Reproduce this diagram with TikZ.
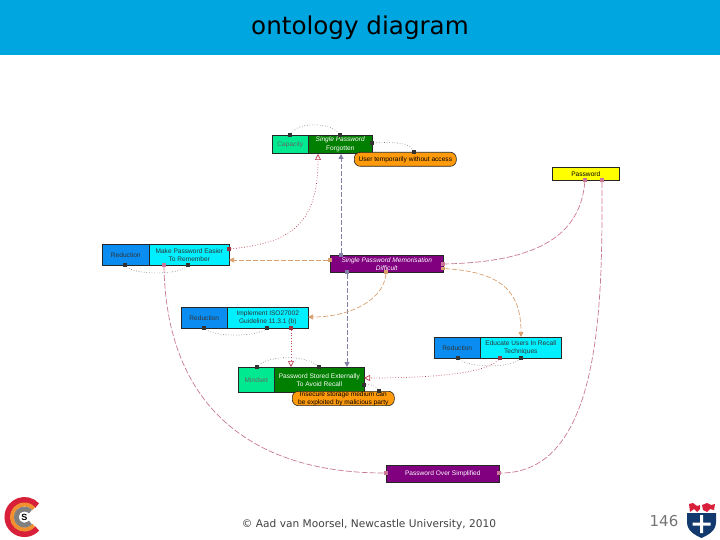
\documentclass[tikz,border=0pt]{standalone}
\usepackage{fontspec}
\setmainfont{Liberation Sans}
\newfontfamily\dejavu{DejaVu Sans}
\usetikzlibrary{arrows.meta}
\definecolor{barblue}{HTML}{00A6DF}
\definecolor{cpgreen}{HTML}{00E890}
\definecolor{dkgreen}{HTML}{007F00}
\definecolor{redblue}{HTML}{0A8CF0}
\definecolor{cyanbx}{HTML}{00F0FF}
\definecolor{purp}{HTML}{800080}
\definecolor{orng}{HTML}{FF9A0A}
\definecolor{yell}{HTML}{FFFF00}
\definecolor{tan1}{HTML}{D8A070}
\definecolor{pink1}{HTML}{C87898}
\definecolor{grey1}{HTML}{8080A8}
\definecolor{red1}{HTML}{C04050}
\definecolor{dot1}{HTML}{707070}
\definecolor{navy1}{HTML}{123A6E}
\definecolor{logored}{HTML}{D8203A}
\definecolor{logoor}{HTML}{F09030}
\tikzset{
  x=1pt,y=-1pt,
  box/.style={draw=black!85,line width=0.6pt,anchor=north west,inner sep=0pt,align=center,
    font=\fontsize{6.6}{8.2}\selectfont},
  port/.style={fill=#1,draw=none,inner sep=0pt,minimum size=3.2pt},
  pill/.style={box,rounded corners=6pt},
  tandash/.style={tan1,line width=0.7pt,dash pattern=on 5pt off 2pt},
  pinkdash/.style={pink1,line width=0.7pt,dash pattern=on 6pt off 2pt},
  greydash/.style={grey1,line width=1pt,dash pattern=on 5pt off 2pt},
  reddot/.style={red1,line width=0.7pt,dotted},
  loopdot/.style={dot1,line width=0.6pt,dotted},
  filltip/.style={-{Triangle[length=5pt,width=5pt,fill=#1]}},
  opentip/.style={-{Triangle[open,length=6pt,width=6pt,fill=white]}}
}
\newcommand{\bx}[7]{\node[box,fill=#6,text=#7,minimum width=#3pt-#1pt,minimum height=#4pt-#2pt] (#5) at (#1,#2)}
\begin{document}
\begin{tikzpicture}
\useasboundingbox (0,0) rectangle (720,540);
\fill[barblue] (0,0) rectangle (720,55);
\node[font=\dejavu\fontsize{24.6}{28}\selectfont] (title) at (360,27.5) {ontology diagram};
\node[font=\dejavu\fontsize{10.6}{12}\selectfont,text=black!75] (foot) at (369,525) {© Aad van Moorsel, Newcastle University, 2010};
\node[font=\dejavu\fontsize{15}{18}\selectfont,text=black!55] (pg) at (664,521) {146};

% boxes
\bx{272}{135}{308}{153}{cap}{cpgreen}{black!60}{Capacity};
\bx{308}{135}{372}{153}{spf}{dkgreen}{white}{\textit{Single Password}\\Forgotten};
\node[pill,fill=orng,text=black,minimum width=102pt,minimum height=14pt] (user) at (354,152) {User temporarily without access};
\bx{552}{167}{619}{180}{pw}{yell}{black}{Password};
\bx{330}{255}{443}{272}{spmd}{purp}{white}{\textit{Single Password Memorisation}\\\textit{Difficult}};
\bx{102}{244}{149}{265}{r1}{redblue}{black!80}{Reduction};
\bx{149}{244}{229}{265}{mpe}{cyanbx}{black!80}{Make Password Easier\\To Remember};
\bx{181}{307}{227}{328}{r2}{redblue}{black!80}{Reduction};
\bx{227}{307}{308}{328}{imp}{cyanbx}{black!80}{Implement ISO27002\\Guideline 11.3.1 (b)};
\bx{434}{337}{480}{358}{r3}{redblue}{black!80}{Reduction};
\bx{480}{337}{561}{358}{edu}{cyanbx}{black!80}{Educate Users In Recall\\Techniques};
\bx{238}{367}{274}{392}{mind}{cpgreen}{black!60}{Mindset};
\bx{274}{367}{364}{392}{pse}{dkgreen}{white}{Password Stored Externally\\To Avoid Recall};
\node[pill,fill=orng,text=black,minimum width=102pt,minimum height=14pt] (ins) at (292,391) {Insecure storage medium can\\be exploited by malicious party};
\bx{386}{465}{499}{482}{pos}{purp}{white}{Password Over Simplified};

% ports
\node[port=pink1] (pwa) at (585,180) {};
\node[port=pink1] (pwb) at (602,180) {};
\node[port=pink1] (sr1) at (443,264) {};
\node[port=tan1] (sr2) at (443,268.5) {};
\node[port=tan1] (sl) at (330,260) {};
\node[port=grey1] (st) at (341,255) {};
\node[port=grey1] (sb) at (347,272) {};
\node[port=tan1] (sb2) at (386,272) {};
\node[port=pink1] (mb) at (164,265) {};
\node[port=red1!80!black] (mr) at (229,249) {};
\node[port=pink1] (pl) at (386,473) {};
\node[port=pink1] (pr) at (499,473) {};
\node[port=red1!80!black] (ib) at (291,328) {};
\node[port=red1!80!black] (eb) at (500,358) {};
\coordinate (spfb) at (341,154);
\coordinate (spft) at (318,154);
\coordinate (mre) at (229,260);
\coordinate (ire) at (308,317);
\coordinate (edt) at (521,337);
\coordinate (pset) at (347,367);
\coordinate (pset2) at (291,367);
\coordinate (pser) at (364,378);
% loop ports
\node[port=black!80] (l1) at (290,135) {};
\node[port=black!80] (l2) at (340,135) {};
\node[port=black!80] (l3) at (372,143) {};
\node[port=black!80] (l4) at (414,152) {};
\node[port=black!80] (l5) at (125,265) {};
\node[port=black!80] (l6) at (188,265) {};
\node[port=black!80] (l7) at (204,328) {};
\node[port=black!80] (l8) at (267,328) {};
\node[port=black!80] (l9) at (458,358) {};
\node[port=black!80] (l10) at (521,358) {};
\node[port=black!80] (l11) at (257,367) {};
\node[port=black!80] (l12) at (319,367) {};
\node[port=black!80] (l13) at (364,385) {};
\node[port=black!80] (l14) at (379,391) {};

% connectors
\draw[greydash,filltip=grey1] (st) -- (spfb);
\draw[greydash,filltip=grey1] (sb) -- (pset);
\draw[tandash,filltip=tan1] (sl) -- (mre);
\draw[tandash,filltip=tan1] (sb2) .. controls (384,300) and (350,317) .. (ire);
\draw[tandash,filltip=tan1] (sr2) .. controls (500,272) and (521,290) .. (edt);
\draw[pinkdash] (pwa) .. controls (580,240) and (530,262) .. (sr1);
\draw[pinkdash] (pwb) .. controls (602,290) and (605,473) .. (pr);
\draw[pinkdash] (mb) .. controls (166,395) and (240,473) .. (pl);
\draw[reddot,opentip] (mr) .. controls (290,243) and (318,225) .. (spft);
\draw[reddot,opentip] (ib) -- (pset2);
\draw[reddot,opentip] (eb) .. controls (485,375) and (420,378) .. (pser);
\draw[loopdot] (l1) .. controls (298,122) and (330,122) .. (l2);
\draw[loopdot] (l3) .. controls (390,142) and (410,142) .. (l4);
\draw[loopdot] (l5) .. controls (135,275) and (178,275) .. (l6);
\draw[loopdot] (l7) .. controls (215,337) and (255,337) .. (l8);
\draw[loopdot] (l9) .. controls (470,368) and (510,368) .. (l10);
\draw[loopdot] (l11) .. controls (270,355) and (305,355) .. (l12);
\draw[loopdot] (l13) .. controls (370,384) and (376,386) .. (l14);

% left logo: start points lie lower right of the centre (24.5,517)
\draw[logored,line width=6pt] (37.1,528.4) arc[start angle=42,end angle=318,radius=17];
\draw[logoor,line width=4pt] (33.8,525.4) arc[start angle=42,end angle=318,radius=12.5];
\draw[gray,line width=5pt] (30.4,522.4) arc[start angle=42,end angle=318,radius=8];
\node[circle,fill=white,inner sep=0pt,minimum size=11pt,font=\bfseries\fontsize{9}{9}\selectfont] (logo) at (24.5,517) {S};

% right shield
\fill[white] (687,502) rectangle (716,513);
\fill[logored] (689,504) -- (693,503) -- (697,506) -- (700,505) -- (700,509) -- (697,512) -- (694,509) -- (690,512) -- cycle;
\fill[logored] (702,505) -- (707,503) -- (711,505) -- (715,504) -- (714,510) -- (710,509) -- (707,512) -- (703,510) -- cycle;
\fill[navy1] (687,513) -- (716,513) -- (716,522) .. controls (716,531) and (708,535) .. (701.5,538) .. controls (695,535) and (687,531) .. (687,522) -- cycle;
\fill[white] (700,515) rectangle (703,533) (692.5,522.5) rectangle (710.5,525.5);
\end{tikzpicture}
\end{document}
